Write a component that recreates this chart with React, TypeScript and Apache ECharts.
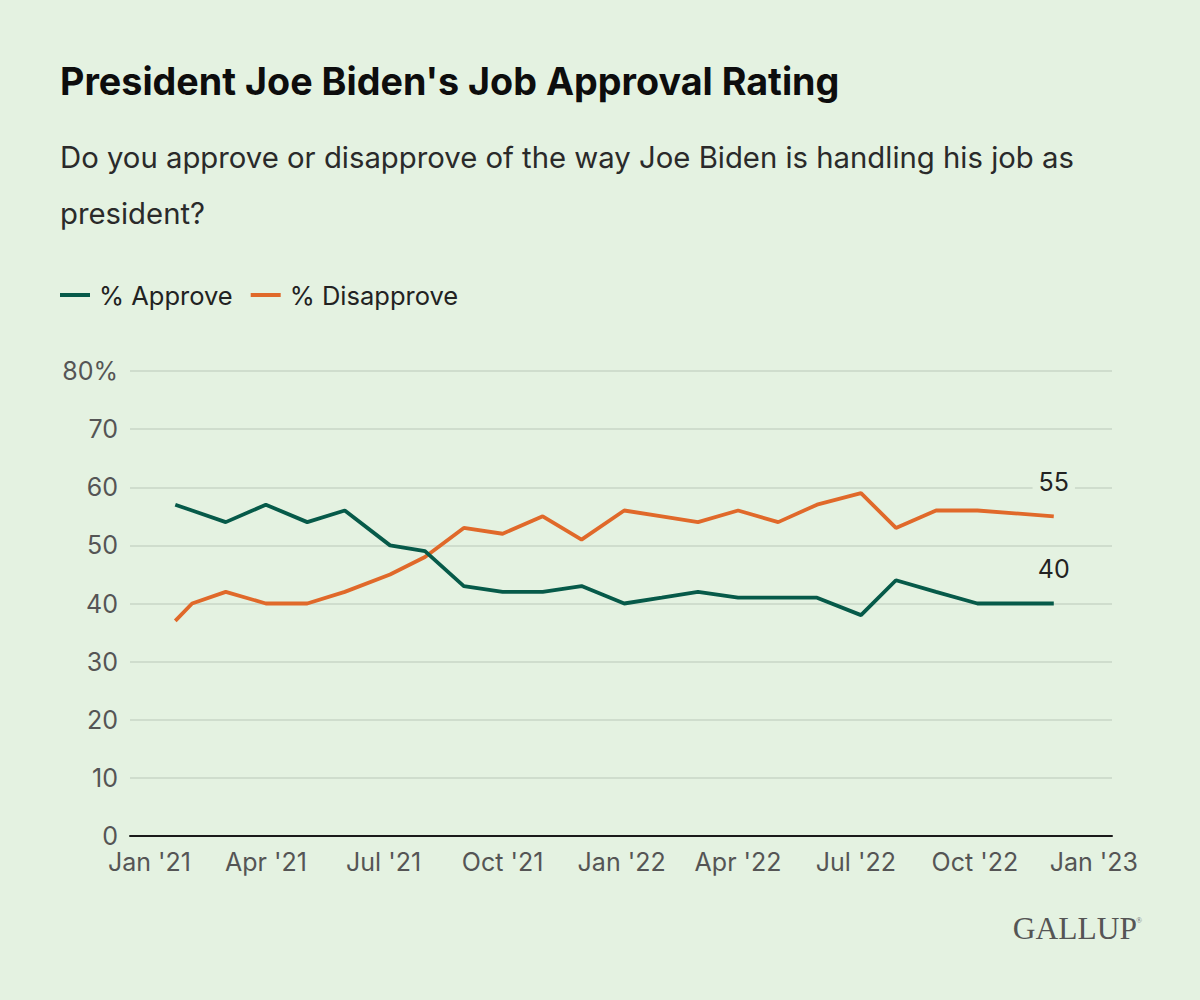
import React, { useEffect, useRef } from "react";
import * as echarts from "echarts";

const dates = [
  "2021-01-21", "2021-02-03", "2021-03-01", "2021-04-01", "2021-05-03", "2021-06-01",
  "2021-07-06", "2021-08-02", "2021-09-01", "2021-10-01", "2021-11-01", "2021-12-01",
  "2022-01-03", "2022-02-01", "2022-03-01", "2022-04-01", "2022-05-02", "2022-06-01",
  "2022-07-05", "2022-08-01", "2022-09-01", "2022-10-03", "2022-12-01",
];
const approve = [57, 56, 54, 57, 54, 56, 50, 49, 43, 42, 42, 43, 40, 41, 42, 41, 41, 41, 38, 44, 42, 40, 40];
const disapprove = [37, 40, 42, 40, 40, 42, 45, 48, 53, 52, 55, 51, 56, 55, 54, 56, 54, 57, 59, 53, 56, 56, 55];
const monthNames = ["Jan", "Feb", "Mar", "Apr", "May", "Jun", "Jul", "Aug", "Sep", "Oct", "Nov", "Dec"];

const BG = "#E4F2E1";
const GREEN = "#065A49";
const ORANGE = "#E0692A";

function toData(vals: number[]) {
  return vals.map((v, i) => {
    const item: any = { value: [dates[i], v] };
    if (i === vals.length - 1) {
      item.label = {
        show: true,
        position: "top",
        distance: 22,
        formatter: String(v),
        fontFamily: "Inter",
        fontSize: 25,
        color: "#222",
        backgroundColor: BG,
        padding: [0, 6],
      };
    }
    return item;
  });
}

export default function App() {
  const ref = useRef<HTMLDivElement>(null);
  useEffect(() => {
    document.body.style.margin = "0";
    const chart = echarts.init(ref.current!, null, { renderer: "svg" });
    chart.setOption({
      animation: false,
      backgroundColor: BG,
      textStyle: { fontFamily: "Inter" },
      title: [
        {
          text: "President Joe Biden's Job Approval Rating",
          left: 60,
          top: 62,
          padding: 0,
          textStyle: { fontFamily: "Inter", fontWeight: "bold", fontSize: 37.7, color: "#0d0d0d" },
        },
        {
          text: "Do you approve or disapprove of the way Joe Biden is handling his job as\npresident?",
          left: 60,
          top: 129,
          padding: 0,
          textStyle: { fontFamily: "Inter", fontWeight: "normal", fontSize: 29.3, color: "#2a2a2a", lineHeight: 56 },
        },
      ],
      legend: {
        left: 55,
        top: 277,
        icon: "rect",
        itemWidth: 30,
        itemHeight: 4,
        itemGap: 18,
        textStyle: { fontFamily: "Inter", fontSize: 25.5, color: "#222", padding: [0, 0, 0, 4] },
        data: ["% Approve", "% Disapprove"],
      },
      grid: { left: 130, right: 88, top: 371, bottom: 164, containLabel: false },
      xAxis: {
        type: "time",
        min: "2020-12-17",
        max: "2023-01-15",
        minInterval: 80 * 86400000,
        maxInterval: 100 * 86400000,
        axisLine: { show: true, lineStyle: { color: "#1a1a1a", width: 2 } },
        axisTick: { show: false },
        splitLine: { show: false },
        axisLabel: {
          fontFamily: "Inter",
          fontSize: 25,
          color: "#555",
          margin: 13,
          formatter: (v: number) => {
            const d = new Date(v);
            return monthNames[d.getMonth()] + " '" + String(d.getFullYear()).slice(2);
          },
        },
      },
      yAxis: {
        type: "value",
        min: 0,
        max: 80,
        interval: 10,
        axisLine: { show: false },
        axisTick: { show: false },
        splitLine: { lineStyle: { color: "#C9D6C6", width: 1.5 } },
        axisLabel: {
          fontFamily: "Inter",
          fontSize: 25,
          color: "#555",
          margin: 12,
          formatter: (v: number) => (v === 80 ? "80%" : String(v)),
        },
      },
      series: [
        {
          name: "% Approve",
          type: "line",
          data: toData(approve),
          showSymbol: true,
          symbol: "circle",
          symbolSize: 0,
          lineStyle: { color: GREEN, width: 3.8 },
          itemStyle: { color: GREEN },
          z: 3,
        },
        {
          name: "% Disapprove",
          type: "line",
          data: toData(disapprove),
          showSymbol: true,
          symbol: "circle",
          symbolSize: 0,
          lineStyle: { color: ORANGE, width: 3.8 },
          itemStyle: { color: ORANGE },
          z: 2,
        },
      ],
      graphic: [
        {
          type: "text",
          right: 63,
          top: 912,
          style: { text: "GALLUP", font: "31.5px 'Liberation Serif', serif", fill: "#555" },
        },
        {
          type: "text",
          right: 58,
          top: 916,
          style: { text: "®", font: "8px 'Liberation Serif', serif", fill: "#777" },
        },
      ],
    });
    return () => chart.dispose();
  }, []);
  return <div ref={ref} style={{ width: 1200, height: 1000 }} />;
}
